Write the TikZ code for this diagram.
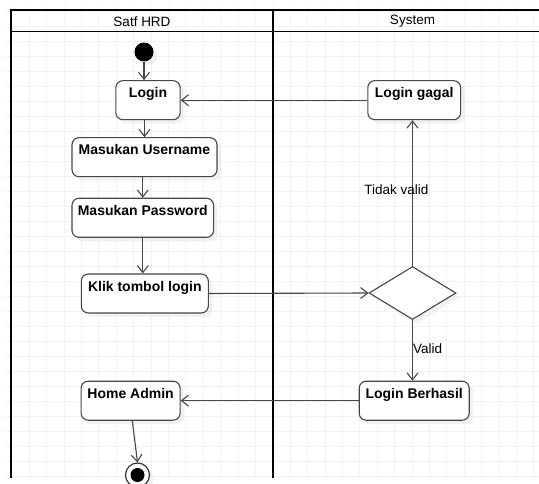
\documentclass[tikz,border=0pt]{standalone}
\usepackage{fontspec}
\setmainfont{Liberation Sans}
\usetikzlibrary{arrows.meta,shapes.geometric,shadows}

\begin{document}
\begin{tikzpicture}[x=1pt,y=-1pt,
  gridline/.style={draw=black!5, line width=1.1pt},
  lane/.style={draw=black, line width=1.8pt},
  hdr/.style={font=\fontsize{13.5}{15}\selectfont, inner sep=0pt},
  softshadow/.style={drop shadow={shadow xshift=4pt, shadow yshift=-4pt, fill=black!10}},
  act/.style={draw=black!72, line width=1.1pt, rounded corners=7pt, fill=white,
    font=\bfseries\fontsize{14}{16}\selectfont, inner xsep=0pt, inner ysep=0pt,
    text height=17pt, text depth=22pt, softshadow},
  flow/.style={draw=black!72, line width=1.1pt,
    -{Straight Barb[length=7pt,width=11pt,line width=1.1pt]}},
  guard/.style={font=\fontsize{13.5}{15}\selectfont, inner sep=0pt},
]
\path[use as bounding box] (0,0) rectangle (539,484);
\clip (0,0) rectangle (539,484);
\fill[white] (0,0) rectangle (539,484);

% background grid
\foreach \i in {0,...,30}
  \draw[gridline] ({11.9+17.4*\i},5) -- ({11.9+17.4*\i},478);
\foreach \j in {0,...,31}
  \draw[gridline] (5,{11.7+15*\j}) -- (539,{11.7+15*\j});

% swimlanes
\draw[lane] (11.3,477.7) -- (11.3,10.3) -- (540,10.3);
\draw[lane] (11.3,31.6) -- (540,31.6);
\draw[lane] (272.6,10.3) -- (272.6,477.7);
\node[hdr] (laneHRD) at (142,21.3) {Satf HRD};
\node[hdr] (laneSys) at (412.5,21.3) {System};

% initial and final nodes
\node[circle, fill=black, minimum size=19pt, inner sep=0pt, softshadow] (start) at (144,52) {};
\node[circle, draw=black!80, line width=1.2pt, fill=white, minimum size=24pt, inner sep=0pt, softshadow] (stop) at (137.5,475) {};
\fill[black] (stop.center) circle[radius=7pt];

% activities
\node[act, minimum width=64.3pt] (login) at (148,100.2) {Login};
\node[act, minimum width=145pt] (user) at (144.5,157.2) {Masukan Username};
\node[act, minimum width=141.7pt] (pass) at (142.8,217.8) {Masukan Password};
\node[act, minimum width=127pt] (klik) at (144.8,293.5) {Klik tombol login};
\node[act, minimum width=99pt] (home) at (130.6,400.7) {Home Admin};
\node[act, minimum width=92.8pt] (gagal) at (414.2,100.2) {Login gagal};
\node[act, minimum width=110pt] (berhasil) at (414.2,400.7) {Login Berhasil};

% decision
\node[diamond, draw=black!72, line width=1.1pt, fill=white, inner sep=0pt,
  minimum width=87pt, minimum height=53pt, softshadow] (cek) at (412.5,293) {};

% flows
\draw[flow] (start) -- (start |- login.north);
\draw[flow] (login.south -| user) -- (user.north);
\draw[flow] (user.south -| pass) -- (pass.north);
\draw[flow] (pass.south) -- (pass.south |- klik.north);
\draw[flow] (klik.east) -- (cek.west);
\draw[flow] (cek.north) -- (cek.north |- gagal.south);
\draw[flow] (gagal.west) -- (login.east);
\draw[flow] (cek.south) -- (cek.south |- berhasil.north);
\draw[flow] (berhasil.west) -- (home.east);
\draw[flow] ([xshift=1.7pt]home.south) -- (stop.north);

% guards
\node[guard] (tidak) at (396.3,190) {Tidak valid};
\node[guard, anchor=west] (valid) at (413,348.3) {Valid};
\end{tikzpicture}
\end{document}
